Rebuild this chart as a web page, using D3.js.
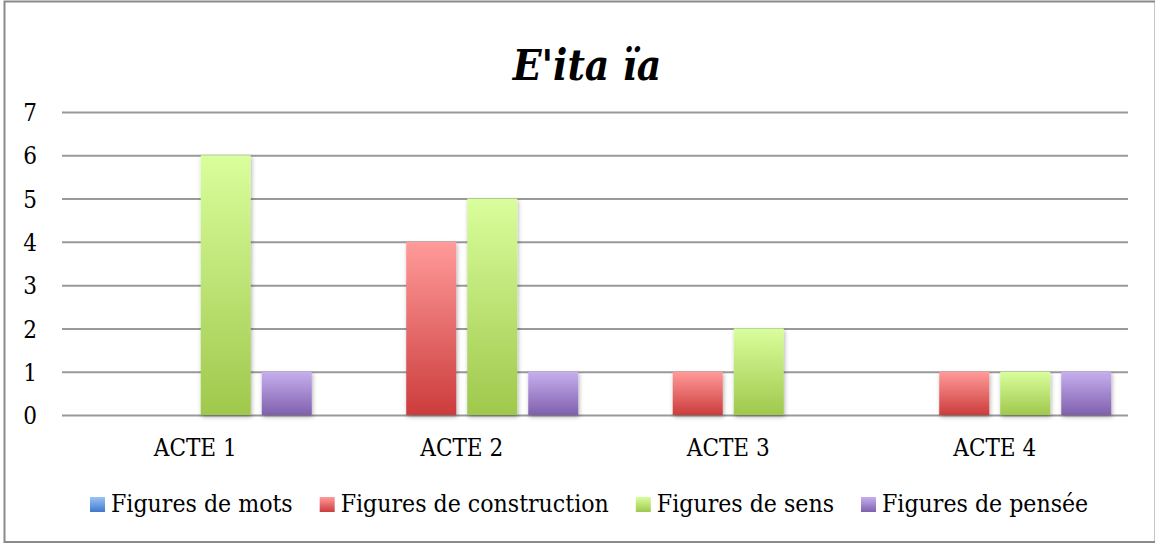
<!DOCTYPE html>
<html>
<head>
<meta charset="utf-8">
<script src="https://cdn.jsdelivr.net/npm/d3@7"></script>
<style>
  body { margin: 0; background: #fff; }
  svg text { font-family: "DejaVu Serif Condensed", "DejaVu Serif", serif; fill: #000; }
</style>
</head>
<body>
<div id="canvas"></div>
<script>
var acts = ['ACTE 1', 'ACTE 2', 'ACTE 3', 'ACTE 4'];
var seriesNames = ['Figures de mots', 'Figures de construction', 'Figures de sens', 'Figures de pensée'];
var mots = [0, 0, 0, 0];
var construction = [0, 4, 1, 1];
var sens = [6, 5, 2, 1];
var pensee = [1, 1, 0, 1];
var yTicks = [0, 1, 2, 3, 4, 5, 6, 7];

var colors = [
  {top: '#9dc3f5', bot: '#3d79cc'},
  {top: '#ff9b9a', bot: '#cc3c3c'},
  {top: '#d9fe9c', bot: '#9fc84c'},
  {top: '#c6afee', bot: '#8060ae'}
];
var values = [mots, construction, sens, pensee];

var W = 1155, H = 544;
var m = {t: 112, r: 27, b: 129, l: 62};

var svg = d3.select('#canvas').append('svg')
  .attr('width', W).attr('height', H);

var defs = svg.append('defs');
colors.forEach(function(c, i) {
  var g = defs.append('linearGradient').attr('id', 'grad' + i)
    .attr('x1', 0).attr('y1', 0).attr('x2', 0).attr('y2', 1);
  g.append('stop').attr('offset', '0%').attr('stop-color', c.top);
  g.append('stop').attr('offset', '100%').attr('stop-color', c.bot);
});
var f = defs.append('filter').attr('id', 'shadow')
  .attr('x', '-20%').attr('y', '-20%').attr('width', '140%').attr('height', '140%');
f.append('feDropShadow').attr('dx', 1).attr('dy', 2).attr('stdDeviation', 2)
  .attr('flood-color', '#000').attr('flood-opacity', 0.3);

// frame
svg.append('rect')
  .attr('x', 4.5).attr('y', 1.5)
  .attr('width', W - 4).attr('height', H - 3.5)
  .attr('fill', 'none').attr('stroke', '#8a8a8a').attr('stroke-width', 2);

// title
svg.append('text')
  .attr('x', 587).attr('y', 80)
  .attr('text-anchor', 'middle')
  .style('font-size', '42px').style('font-weight', 'bold').style('font-style', 'italic')
  .text("E'ita ïa");

var scaleY = d3.scaleLinear().domain([0, 7]).range([H - m.b, m.t]);
var scaleX = d3.scaleBand().domain(acts).range([m.l, W - m.r]);
var scaleS = d3.scaleBand().domain(d3.range(4))
  .range([0, scaleX.bandwidth()]).paddingInner(0.18).paddingOuter(0.274);

var axisY = d3.axisLeft(scaleY).tickValues(yTicks).tickFormat(d3.format('d'))
  .tickSize(-(W - m.r - m.l));
var gy = svg.append('g').attr('transform', 'translate(' + m.l + ',0)').call(axisY);
gy.select('.domain').remove();
gy.selectAll('line').attr('stroke', '#999').attr('stroke-width', 2);
gy.selectAll('text').style('font-size', '24px').attr('text-anchor', 'middle')
  .attr('x', -32).attr('dy', '0.36em');

var axisX = d3.axisBottom(scaleX).tickSize(0).tickPadding(24);
var gx = svg.append('g').attr('transform', 'translate(0,' + (H - m.b) + ')').call(axisX);
gx.select('.domain').remove();
gx.selectAll('text').style('font-size', '24px');

// bars
var rows = [];
acts.forEach(function(a, i) {
  values.forEach(function(v, s) {
    if (v[i] > 0) rows.push({act: a, s: s, v: v[i]});
  });
});
svg.append('g').selectAll('rect').data(rows).enter().append('rect')
  .attr('x', function(d) { return scaleX(d.act) + scaleS(d.s); })
  .attr('y', function(d) { return scaleY(d.v); })
  .attr('width', scaleS.bandwidth())
  .attr('height', function(d) { return scaleY(0) - scaleY(d.v); })
  .attr('fill', function(d) { return 'url(#grad' + d.s + ')'; })
  .attr('filter', 'url(#shadow)');

// legend
var leg = svg.append('g');
var lx = 90;
seriesNames.forEach(function(name, i) {
  leg.append('rect').attr('x', lx).attr('y', 497).attr('width', 15).attr('height', 15)
    .attr('fill', 'url(#grad' + i + ')');
  var t = leg.append('text').attr('x', lx + 21).attr('y', 512)
    .style('font-size', '24.6px').text(name);
  lx += 21 + t.node().getComputedTextLength() + 27;
});
</script>
</body>
</html>
